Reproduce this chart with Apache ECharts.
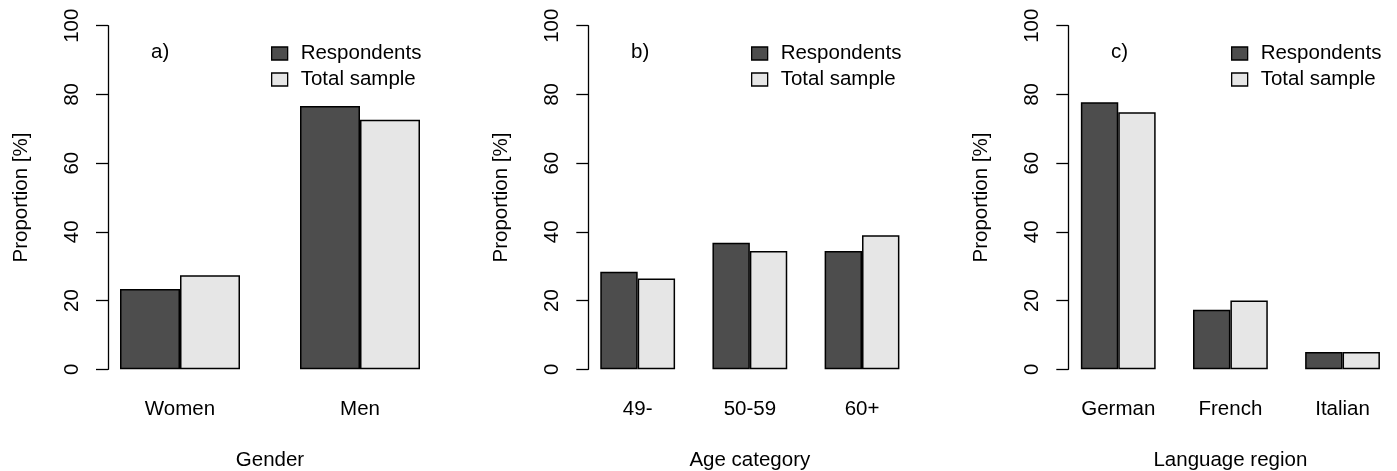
<!DOCTYPE html>
<html>
<head>
<meta charset="utf-8">
<script src="https://cdn.jsdelivr.net/npm/echarts@6/dist/echarts.min.js"></script>
<style>
  html, body { margin: 0; padding: 0; background: #fff; }
  #chart { width: 1397px; height: 471px; }
</style>
</head>
<body>
<div id="chart"></div>
<script>
// data (percent)
var genderCats = ['Women', 'Men'];
var genderResp = [23.4, 76.6];
var genderTotal = [27.4, 72.6];

var ageCats = ['49-', '50-59', '60+'];
var ageResp = [28.4, 36.8, 34.4];
var ageTotal = [26.4, 34.4, 39.0];

var langCats = ['German', 'French', 'Italian'];
var langResp = [77.7, 17.3, 5.0];
var langTotal = [74.8, 20.0, 5.0];

var yTicks = [0, 20, 40, 60, 80, 100];

var FONT = 'Liberation Sans, Arial, sans-serif';
var FS = 20.5;
var DARK = '#4d4d4d';
var LIGHT = '#e6e6e6';

// one entry per panel: grid box and where the y axis sits
var panels = [
  { cats: genderCats, resp: genderResp, total: genderTotal, name: 'Gender', tag: 'a)',
    left: 90, width: 360, axisX: 108, barW: 60, tagX: 146, legX: 266 },
  { cats: ageCats, resp: ageResp, total: ageTotal, name: 'Age category', tag: 'b)',
    left: 581.6, width: 336.5, axisX: 588.3, barW: 37.4, tagX: 626, legX: 746 },
  { cats: langCats, resp: langResp, total: langTotal, name: 'Language region', tag: 'c)',
    left: 1062.2, width: 336.4, axisX: 1068.3, barW: 37.4, tagX: 1106, legX: 1226 }
];

var chart = echarts.init(document.getElementById('chart'));

var grid = [], xAxis = [], yAxis = [], series = [], title = [], legend = [];

panels.forEach(function (p, i) {
  // v6 shrinks grids to keep labels in the canvas unless told not to
  grid.push({ left: p.left, width: p.width, top: 25.7, bottom: 101.7,
    outerBoundsMode: 'none', containLabel: false });

  xAxis.push({
    type: 'category', gridIndex: i, data: p.cats,
    axisLine: { show: false }, axisTick: { show: false },
    axisLabel: { color: '#000', fontFamily: FONT, fontSize: FS, margin: 30 },
    name: p.name, nameLocation: 'middle', nameGap: 81,
    nameTextStyle: { color: '#000', fontFamily: FONT, fontSize: FS }
  });

  yAxis.push({
    type: 'value', gridIndex: i, min: 0, max: 100, interval: 20,
    offset: p.left - p.axisX,
    axisLine: { show: true, lineStyle: { color: '#000', width: 1.3 } },
    axisTick: { show: true, length: 12, lineStyle: { color: '#000', width: 1.3 } },
    axisLabel: {
      color: '#000', fontFamily: FONT, fontSize: FS, rotate: 90, margin: 25,
      formatter: function (v) { return yTicks.indexOf(v) >= 0 ? String(v) : ''; }
    },
    splitLine: { show: false },
    name: 'Proportion [%]', nameLocation: 'middle', nameGap: 76,
    nameTextStyle: { color: '#000', fontFamily: FONT, fontSize: FS }
  });

  series.push({
    type: 'bar', name: 'Respondents', xAxisIndex: i, yAxisIndex: i,
    data: p.resp, barWidth: p.barW, barGap: '0%',
    itemStyle: { color: DARK, borderColor: '#000', borderWidth: 1.5 },
    emphasis: { disabled: true }
  });
  series.push({
    type: 'bar', name: 'Total sample', xAxisIndex: i, yAxisIndex: i,
    data: p.total, barWidth: p.barW, barGap: '0%',
    itemStyle: { color: LIGHT, borderColor: '#000', borderWidth: 1.5 },
    emphasis: { disabled: true }
  });

  title.push({
    text: p.tag, left: p.tagX, top: 37,
    textStyle: { color: '#000', fontFamily: FONT, fontSize: FS, fontWeight: 'normal' }
  });

  legend.push({
    data: ['Respondents', 'Total sample'],
    orient: 'vertical', left: p.legX, top: 38,
    icon: 'rect', itemWidth: 16, itemHeight: 13, itemGap: 5,
    selectedMode: false,
    itemStyle: { borderColor: '#000', borderWidth: 1.3 },
    textStyle: { color: '#000', fontFamily: FONT, fontSize: FS, lineHeight: 21, padding: [0, 0, 0, 8] }
  });
});

chart.setOption({
  animation: false,
  title: title,
  legend: legend,
  grid: grid,
  xAxis: xAxis,
  yAxis: yAxis,
  series: series
});
</script>
</body>
</html>
